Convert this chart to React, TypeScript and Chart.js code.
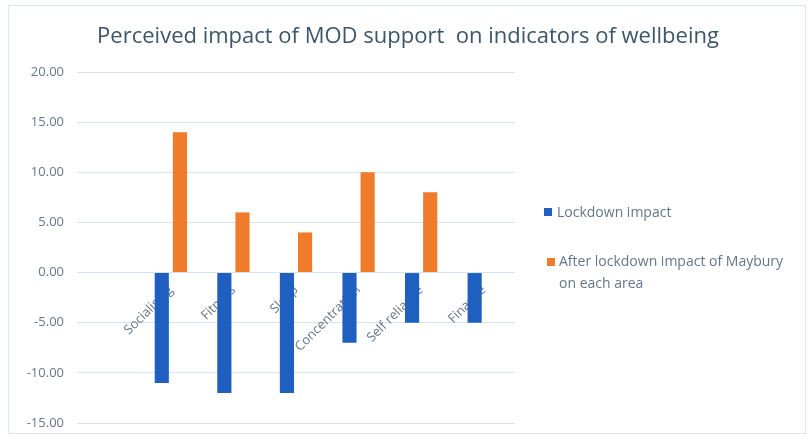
import React, { useEffect, useRef } from "react";
import { Chart, registerables } from "chart.js";

Chart.register(...registerables);

const categories = ["", "Socialising", "Fitness", "Sleep", "Concentration", "Self reliance", "Finance"];
const lockdownImpact = [null, -11, -12, -12, -7, -5, -5];
const afterLockdownImpact = [null, 14, 6, 4, 10, 8, null];
const seriesNames = ["Lockdown impact", ["After lockdown impact of Maybury", "on each area"]];
const yTicks = { min: -15, max: 20, step: 5 };
const titleText = "Perceived impact of MOD support  on indicators of wellbeing";

const BLUE = "#1f5fbf";
const ORANGE = "#f07b2a";
const TEXT = "#66768a";
const FONT = "'Open Sans', sans-serif";

const framePlugin = {
  id: "frameAndLegend",
  afterDraw(chart: any) {
    const ctx = chart.ctx;
    ctx.save();
    ctx.strokeStyle = "#dde5ee";
    ctx.lineWidth = 1;
    ctx.strokeRect(8.5, 5.5, 797, 428);
    // title
    ctx.fillStyle = "#3d5668";
    ctx.font = `22px ${FONT}`;
    ctx.textAlign = "center";
    ctx.textBaseline = "middle";
    ctx.fillText(titleText, 408, 37);
    // legend
    ctx.textAlign = "left";
    ctx.font = `14px ${FONT}`;
    ctx.fillStyle = BLUE;
    ctx.fillRect(544, 208, 8, 8);
    ctx.fillStyle = TEXT;
    ctx.fillText(seriesNames[0] as string, 557, 213);
    ctx.fillStyle = ORANGE;
    ctx.fillRect(547, 258, 8, 8);
    ctx.fillStyle = TEXT;
    const lines = seriesNames[1] as string[];
    ctx.fillText(lines[0], 559, 262);
    ctx.fillText(lines[1], 559, 284);
    ctx.restore();
  },
};

export default function App() {
  const ref = useRef<HTMLCanvasElement>(null);
  useEffect(() => {
    document.body.style.margin = "0";
    const chart = new Chart(ref.current!, {
      type: "bar",
      data: {
        labels: categories,
        datasets: [
          {
            label: "Lockdown impact",
            data: lockdownImpact as any,
            backgroundColor: BLUE,
            categoryPercentage: 0.58,
            barPercentage: 0.78,
          },
          {
            label: "After lockdown impact of Maybury on each area",
            data: afterLockdownImpact as any,
            backgroundColor: ORANGE,
            categoryPercentage: 0.58,
            barPercentage: 0.78,
          },
        ],
      },
      options: {
        animation: false,
        responsive: false,
        layout: { padding: { top: 72, bottom: 15, left: 8, right: 296 } },
        plugins: { legend: { display: false }, title: { display: false }, tooltip: { enabled: false } },
        scales: {
          x: {
            position: { y: 0 } as any,
            grid: { display: false },
            border: { display: false },
            afterFit: (s: any) => {
              s.height = 0;
            },
            ticks: {
              color: TEXT,
              font: { family: FONT, size: 13 },
              minRotation: 45,
              maxRotation: 45,
              padding: 2,
            },
          },
          y: {
            min: yTicks.min,
            max: yTicks.max,
            border: { display: false },
            grid: { color: "#d4e3f1", drawTicks: false },
            afterFit: (s: any) => {
              s.width = 69;
              s.paddingTop = 0;
              s.paddingBottom = 0;
            },
            ticks: {
              stepSize: yTicks.step,
              color: TEXT,
              font: { family: FONT, size: 13 },
              padding: 13,
              callback: (v: any) => Number(v).toFixed(2),
            },
          },
        },
      },
      plugins: [framePlugin],
    });
    return () => chart.destroy();
  }, []);
  return <canvas ref={ref} width={811} height={438} style={{ display: "block" }} />;
}
